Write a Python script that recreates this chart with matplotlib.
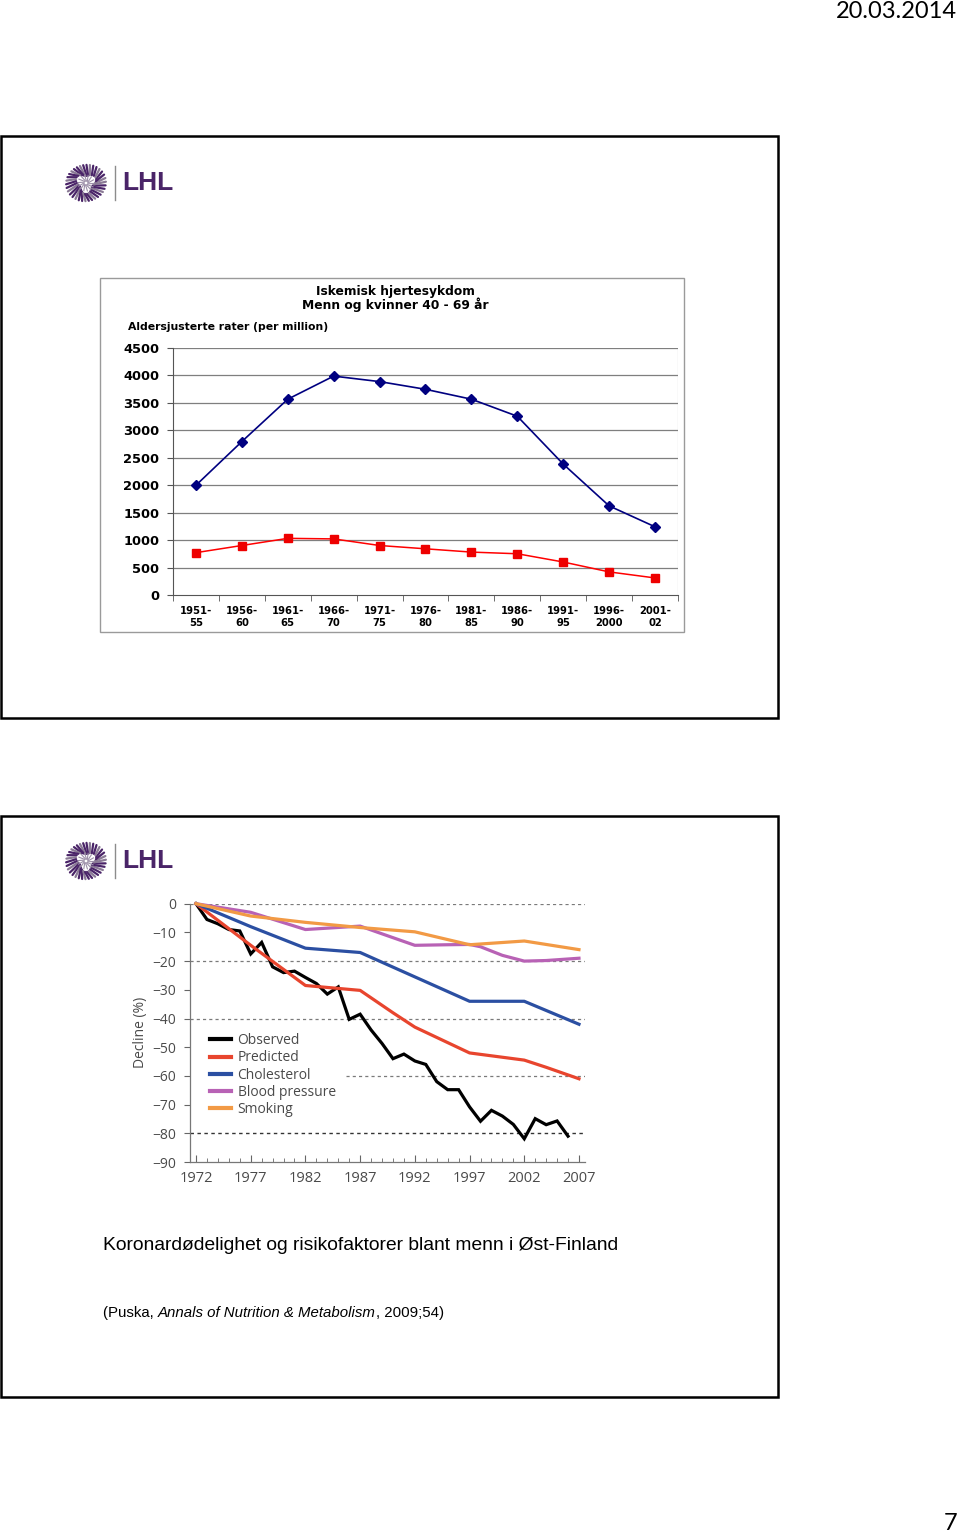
import matplotlib
matplotlib.use('Agg')
import matplotlib.pyplot as plt
from matplotlib.patches import Rectangle
from matplotlib.lines import Line2D
import numpy as np

# ---------------- data ----------------
periods = ['1951-\n55', '1956-\n60', '1961-\n65', '1966-\n70', '1971-\n75', '1976-\n80',
           '1981-\n85', '1986-\n90', '1991-\n95', '1996-\n2000', '2001-\n02']
men_rates = [1995, 2790, 3560, 3980, 3880, 3740, 3560, 3250, 2380, 1620, 1240]
women_rates = [770, 900, 1030, 1020, 900, 840, 780, 750, 600, 420, 310]
top_yticks = [0, 500, 1000, 1500, 2000, 2500, 3000, 3500, 4000, 4500]

obs_years = list(range(1972, 2007))
observed = [0, -5.5, -7, -9, -9.5, -17.5, -13.5, -22, -24, -23.5, -25.7, -27.8, -31.5, -29,
            -40.3, -38.5, -44, -48.7, -54, -52.4, -54.8, -56, -62, -64.8, -64.8, -70.8,
            -75.8, -72, -74, -76.9, -81.9, -74.9, -77, -75.7, -81]
pred_years = [1972, 1977, 1982, 1987, 1990, 1992, 1997, 2002, 2004, 2007]
predicted = [0, -14.5, -28.5, -30.2, -38, -43, -52, -54.5, -57, -61]
chol_years = [1972, 1977, 1982, 1987, 1992, 1997, 2002, 2007]
cholesterol = [0, -8, -15.5, -17, -25.5, -34, -34, -42]
bp_years = [1972, 1977, 1982, 1987, 1989, 1992, 1995, 1997, 1998, 2000, 2002, 2004, 2007]
blood_pressure = [0, -3, -9, -7.8, -10.5, -14.5, -14.3, -14.2, -15, -18, -20, -19.8, -19]
smk_years = [1972, 1977, 1982, 1987, 1992, 1997, 2002, 2007]
smoking = [0, -4.3, -6.5, -8.3, -9.8, -14.3, -13, -16]
bottom_xticks = [1972, 1977, 1982, 1987, 1992, 1997, 2002, 2007]
bottom_yticks = [0, -10, -20, -30, -40, -50, -60, -70, -80, -90]

# ---------------- figure ----------------
W, H = 960, 1534
fig = plt.figure(figsize=(W / 100, H / 100), dpi=100)


def fx(x):
    return x / W


def fy(y):
    return 1 - y / H


def add_ax(l, t, r, b, **kw):
    return fig.add_axes([l / W, 1 - b / H, (r - l) / W, (b - t) / H], **kw)


def rect(l, t, r, b, ec, lw):
    fig.patches.append(Rectangle((fx(l), fy(b)), (r - l) / W, (b - t) / H,
                                 transform=fig.transFigure, fill=False, ec=ec, lw=lw))


PURPLE = '#4A2468'


def logo(cx, cy):
    lax = add_ax(cx - 22, cy - 22, cx + 22, cy + 22)
    lax.set_xlim(-1.1, 1.1)
    lax.set_ylim(-1.1, 1.1)
    lax.set_aspect('equal')
    lax.axis('off')
    angs = np.linspace(0, 2 * np.pi, 34, endpoint=False)
    for i, a in enumerate(angs):
        r0 = 0.45 + 0.1 * np.sin(3 * a)
        r1 = 0.95 + 0.05 * np.cos(2 * a)
        col = PURPLE if i % 3 else '#8A7A95'
        lax.plot([r0 * np.cos(a), r1 * np.cos(a + 0.25)],
                 [r0 * np.sin(a), r1 * np.sin(a + 0.25)], color=col, lw=1.6,
                 solid_capstyle='round')
    for a in np.linspace(0, 2 * np.pi, 14, endpoint=False):
        lax.plot([0.1 * np.cos(a), 0.4 * np.cos(a + 0.4)],
                 [0.1 * np.sin(a), 0.4 * np.sin(a + 0.4)], color='#9C8FA8', lw=0.8)
    fig.add_artist(Line2D([fx(cx + 29), fx(cx + 29)], [fy(cy - 17), fy(cy + 17)],
                          transform=fig.transFigure, color='#8C8C8C', lw=1.0))
    fig.text(fx(cx + 36), fy(cy), 'LHL', fontsize=19, fontweight='bold',
             family='Liberation Sans', color=PURPLE, ha='left', va='center')


# header / footer
fig.text(fx(957), fy(12), '20.03.2014', fontsize=17, family='Lato', ha='right',
         va='center', color='black')
fig.text(fx(957), fy(1523), '7', fontsize=17, family='Lato', ha='right',
         va='center', color='black')

# slide frames
rect(1, 136, 778, 718, 'black', 1.8)
rect(1, 816, 778, 1397, 'black', 1.8)

logo(86, 183)
logo(86, 861)

# ---------------- top chart ----------------
rect(100, 278, 684, 632, '#9A9A9A', 1.0)
ARIAL = 'Liberation Sans'
WIDE = 'DejaVu Sans'
fig.text(fx(395), fy(292), 'Iskemisk hjertesykdom', fontsize=8.8, fontweight='bold',
         family=WIDE, ha='center', va='center')
fig.text(fx(395), fy(305), 'Menn og kvinner 40 - 69 år', fontsize=8.8, fontweight='bold',
         family=WIDE, ha='center', va='center')
fig.text(fx(128), fy(327), 'Aldersjusterte rater (per million)', fontsize=7.8, fontweight='bold',
         family=WIDE, ha='left', va='center')

ax1 = add_ax(173, 347.5, 678, 595)
x = np.arange(len(periods))
ax1.set_xlim(-0.5, len(periods) - 0.5)
ax1.set_ylim(0, 4500)
for v in top_yticks[1:]:
    ax1.axhline(v, color='#7F7F7F', lw=0.9, zorder=1)
ax1.plot(x, men_rates, color='#000080', lw=1.2, marker='D', ms=5,
         mfc='#000080', mec='#000080', zorder=3, clip_on=False)
ax1.plot(x, women_rates, color='#FF0000', lw=1.1, marker='s', ms=6,
         mfc='#EE0000', mec='#EE0000', zorder=3, clip_on=False)
ax1.set_yticks(top_yticks)
ax1.set_yticklabels([str(v) for v in top_yticks], fontsize=9.4, fontweight='bold', family=WIDE)
ax1.set_xticks(x)
ax1.set_xticklabels(periods, fontsize=7.2, fontweight='bold', family=WIDE, linespacing=1.25)
ax1.set_xticks(np.arange(-0.5, len(periods)), minor=True)
ax1.tick_params(axis='x', which='major', length=0, pad=8)
ax1.tick_params(axis='x', which='minor', length=4, color='#555555', direction='out')
ax1.tick_params(axis='y', length=4, color='#555555', direction='out', pad=6)
for s in ['top', 'right']:
    ax1.spines[s].set_visible(False)
ax1.spines['left'].set_color('#555555')
ax1.spines['bottom'].set_color('#555555')
ax1.axvline(len(periods) - 0.5, color='#9A9A9A', lw=0.8)

# ---------------- bottom chart ----------------
MYR = 'Open Sans'
GREY = '#4A4A4A'
ax2 = add_ax(190, 903.7, 585, 1162)
ax2.set_xlim(1971.45, 2007.55)
ax2.set_ylim(-90, 0)
for v in [0, -20, -40]:
    ax2.axhline(v, color='#7A7A7A', lw=0.9, ls=(0, (2.5, 2.5)), zorder=1)
ax2.axhline(-60, xmin=0.395, color='#7A7A7A', lw=0.9, ls=(0, (2.5, 2.5)), zorder=1)
ax2.axhline(-80, color='#333333', lw=1.0, ls=(0, (2.5, 2.5)), zorder=1)

lw = 2.3
ax2.plot(obs_years, observed, color='black', lw=lw, label='Observed', zorder=3,
         clip_on=False, solid_joinstyle='miter')
ax2.plot(pred_years, predicted, color='#E8452E', lw=lw, label='Predicted', zorder=4, clip_on=False)
ax2.plot(chol_years, cholesterol, color='#2B4FA2', lw=lw, label='Cholesterol', zorder=4, clip_on=False)
ax2.plot(bp_years, blood_pressure, color='#B862B5', lw=lw, label='Blood pressure', zorder=4,
         clip_on=False)
ax2.plot(smk_years, smoking, color='#F29A45', lw=lw, label='Smoking', zorder=5, clip_on=False)

ax2.set_yticks(bottom_yticks)
ax2.set_yticklabels(['0' if v == 0 else '\u2212%d' % abs(v) for v in bottom_yticks],
                    fontsize=10, family=MYR, color=GREY)
ax2.set_xticks(bottom_xticks)
ax2.set_xticklabels([str(v) for v in bottom_xticks], fontsize=10.5, family=MYR, color=GREY)
ax2.set_xticks(np.arange(1972, 2008), minor=True)
ax2.tick_params(axis='x', which='major', direction='in', length=5, color='#666666', pad=6.5)
ax2.tick_params(axis='x', which='minor', direction='in', length=3, color='#666666')
ax2.tick_params(axis='y', direction='out', length=4, color='#666666', pad=6)
for s in ['top', 'right']:
    ax2.spines[s].set_visible(False)
for s in ['left', 'bottom']:
    ax2.spines[s].set_color('#777777')
    ax2.spines[s].set_linewidth(0.9)
ax2.set_ylabel('Decline (%)', fontsize=10, family=MYR, color=GREY, labelpad=3)

leg = ax2.legend(loc='upper left', bbox_to_anchor=(0.036, 0.52), frameon=False,
                 prop={'family': MYR, 'size': 10}, handlelength=1.5,
                 handletextpad=0.5, labelspacing=0.16, borderaxespad=0)
for t in leg.get_texts():
    t.set_color(GREY)
for h in leg.get_lines():
    h.set_linewidth(3)

# ---------------- captions ----------------
fig.text(fx(103), fy(1245), 'Koronardødelighet og risikofaktorer blant menn i Øst-Finland',
         fontsize=13.9, family=ARIAL, ha='left', va='center', color='black')

renderer = fig.canvas.get_renderer()
parts = [('(Puska, ', 'normal'), ('Annals of Nutrition & Metabolism', 'italic'),
         (', 2009;54)', 'normal')]
xpos = 103
for txt, sty in parts:
    t = fig.text(fx(xpos), fy(1313), txt, fontsize=10.8, family=ARIAL, style=sty,
                 ha='left', va='center', color='black')
    bb = t.get_window_extent(renderer=renderer)
    xpos += bb.width

fig.savefig('out.png', dpi=100, facecolor='white')
